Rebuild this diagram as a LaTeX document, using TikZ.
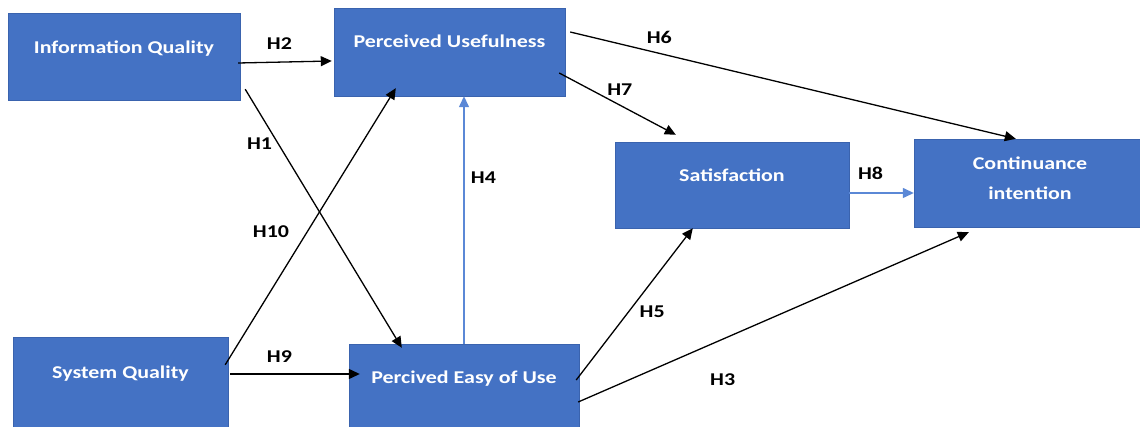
\documentclass[tikz,border=0pt]{standalone}
\usepackage{fontspec}
\newfontfamily\boxfont[FakeStretch=1.22]{Carlito}
\usepackage{tikz}
\usetikzlibrary{arrows.meta,positioning,calc}
\definecolor{boxblue}{HTML}{4472C4}
\definecolor{boxedge}{HTML}{3A63AE}
\definecolor{linkblue}{HTML}{5B88D6}

\begin{document}
\begin{tikzpicture}[x=1pt, y=-1pt,
	factor/.style={rectangle, draw=boxedge, fill=boxblue, text=white, inner sep=0pt,
		font=\boxfont\bfseries\fontsize{18}{30}\selectfont},
	lift/.style={text height=12pt, text depth=#1},
	hyp/.style={-{Triangle[length=11pt,width=10pt]}, line width=1.3pt},
	hypblue/.style={hyp, draw=linkblue},
	hlabel/.style={font=\boxfont\bfseries\fontsize{18}{22}\selectfont}]
		\clip (0,0) rectangle (1140,427);
		% constructs
		\node[factor, lift=17.4pt, minimum width=232pt, minimum height=87pt] (iq) at (124,56.5) {Information Quality};
		\node[factor, lift=20.4pt, minimum width=231pt, minimum height=88pt] (pu) at (449.5,52) {Perceived Usefulness};
		\node[factor, lift=18.4pt, minimum width=234pt, minimum height=86pt] (sat) at (732,185) {Satisfaction};
		\node[factor, align=center, text depth=10pt, minimum width=232pt, minimum height=88pt] (ci) at (1030,183) {Continuance\\intention};
		\node[factor, lift=20.4pt, minimum width=215pt, minimum height=92pt] (sq) at (120.5,383) {System Quality};
		\node[factor, lift=20.4pt, minimum width=230pt, minimum height=88pt] (peu) at (464,388) {Percived Easy of Use};
		% hypotheses
		\draw[hyp] ($(iq.east)+(-2,6.5)$) -- ($(pu.west)+(-2,9)$) node[hlabel, pos=.44, above=9pt] {H2};
		\draw[hyp] ($(iq.south east)+(5,-11)$) -- ($(peu.north west)+(53,4)$) node[hlabel, pos=.21, left=2pt] {H1};
		\draw[hyp] ($(sq.north east)+(-3,28)$) -- ($(pu.south west)+(62,-8)$) node[hlabel, pos=.48, left=14pt] {H10};
		\draw[hypblue] (peu.north) -- (peu.north |- pu.south) node[hlabel, pos=.67, right=3pt] {H4};
		\draw[hyp] ($(pu.east)+(5,-20)$) -- ($(ci.north west)+(102,0)$) node[hlabel, pos=.2, above=6pt] {H6};
		\draw[hyp] ($(pu.east)+(-6,21)$) -- ($(sat.north west)+(61,-7)$) node[hlabel, pos=.52, above=6pt] {H7};
		\draw[hypblue] ($(sat.east)+(0,8)$) -- ($(ci.west)+(0,10)$) node[hlabel, pos=.33, above=9pt] {H8};
		\draw[hyp] ($(sq.east)+(2,-9)$) -- ($(peu.west)+(11,-14)$) node[hlabel, pos=.38, above=8pt] {H9};
		\draw[hyp] ($(peu.east)+(-3,-8)$) -- ($(sat.south west)+(78,0)$) node[hlabel, pos=.45, right=7pt] {H5};
		\draw[hyp] ($(peu.east)+(-1,14)$) -- ($(ci.south west)+(55,5)$) node[hlabel, pos=.37, below=31pt] {H3};
	\end{tikzpicture}
\end{document}
